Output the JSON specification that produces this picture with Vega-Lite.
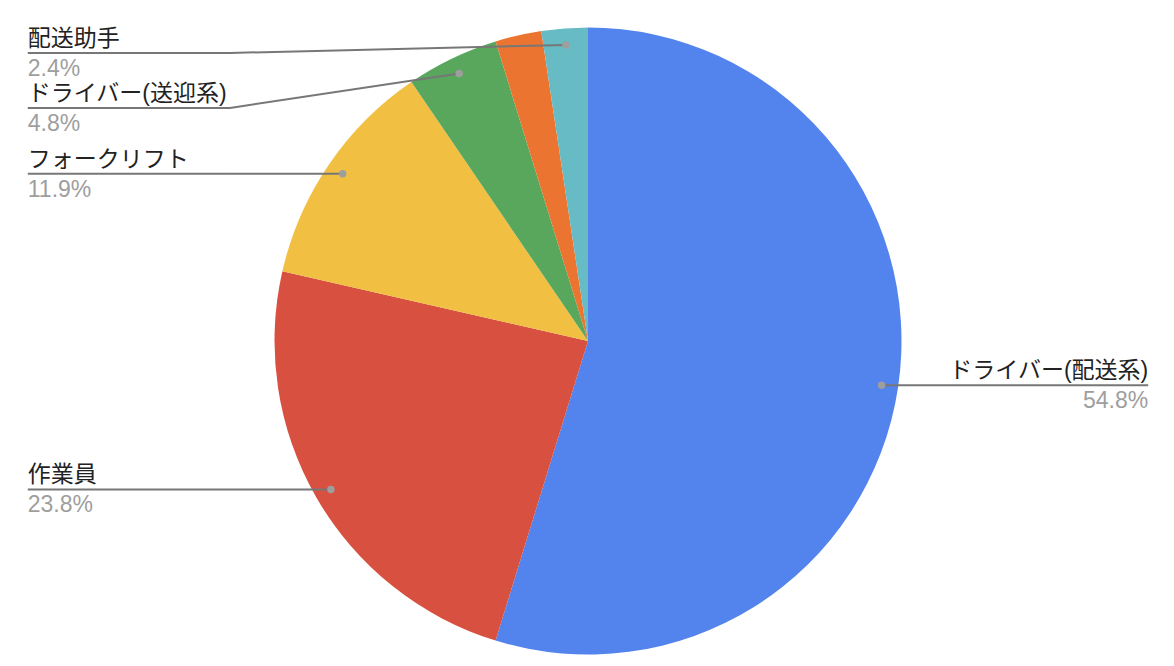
{
  "$schema": "https://vega.github.io/schema/vega-lite/v6.json",
  "width": 1174,
  "height": 666,
  "padding": 0,
  "autosize": {"type": "fit", "contains": "padding"},
  "background": "#ffffff",
  "config": {"view": {"stroke": null}},
  "data": {
    "values": [
      {"name": "ドライバー(配送系)", "count": 23, "order": 1},
      {"name": "作業員", "count": 10, "order": 2},
      {"name": "フォークリフト", "count": 5, "order": 3},
      {"name": "ドライバー(送迎系)", "count": 2, "order": 4},
      {"name": "その他", "count": 1, "order": 5},
      {"name": "配送助手", "count": 1, "order": 6}
    ]
  },
  "layer": [
    {
      "mark": {"type": "arc", "outerRadius": 313.5, "stroke": null},
      "encoding": {
        "theta": {"field": "count", "type": "quantitative", "stack": true},
        "order": {"field": "order", "type": "quantitative"},
        "color": {
          "field": "name",
          "type": "nominal",
          "legend": null,
          "scale": {
            "domain": ["ドライバー(配送系)", "作業員", "フォークリフト", "ドライバー(送迎系)", "その他", "配送助手"],
            "range": ["#5383EC", "#D85140", "#F1BF42", "#58A75C", "#EB7530", "#67BBC4"]
          }
        },
        "x": {"datum": 0, "type": "quantitative", "axis": null, "scale": {"domain": [-1.8756, 1.8692], "nice": false, "zero": false}},
        "y": {"datum": 0, "type": "quantitative", "axis": null, "scale": {"domain": [-1.0367, 1.0877], "nice": false, "zero": false}}
      }
    },
    {
      "transform": [
        {"joinaggregate": [{"op": "sum", "field": "count", "as": "total"}]},
        {"window": [{"op": "sum", "field": "count", "as": "cum"}], "sort": [{"field": "order"}], "frame": [null, 0]},
        {"calculate": "(datum.cum - datum.count/2)/datum.total*2*PI", "as": "mid"},
        {"calculate": "0.947*sin(datum.mid)", "as": "dotX"},
        {"calculate": "0.947*cos(datum.mid)", "as": "dotY"},
        {"calculate": "format(datum.count/datum.total, '.1%')", "as": "pct"},
        {"filter": "datum.name !== 'その他'"},
        {"calculate": "datum.dotX < 0 ? 'left' : 'right'", "as": "side"},
        {"window": [{"op": "row_number", "as": "rank"}], "groupby": ["side"], "sort": [{"field": "dotY", "order": "descending"}]},
        {"calculate": "datum.dotY + 0.1754*datum.rank", "as": "a"},
        {"window": [{"op": "min", "field": "a", "as": "amin"}], "groupby": ["side"], "sort": [{"field": "dotY", "order": "descending"}], "frame": [null, 0]},
        {"calculate": "min(0.9187 - 0.1754*(datum.rank-1), datum.amin - 0.1754*datum.rank)", "as": "labelY"},
        {"calculate": "datum.side === 'left' ? -1.787 : 1.787", "as": "labelX"},
        {"calculate": "datum.side === 'left' ? -1.142 : 1.142", "as": "elbowX"}
      ],
      "encoding": {
        "x": {"field": "labelX", "type": "quantitative", "axis": null, "scale": {"domain": [-1.8756, 1.8692], "nice": false, "zero": false}},
        "y": {"field": "labelY", "type": "quantitative", "axis": null, "scale": {"domain": [-1.0367, 1.0877], "nice": false, "zero": false}}
      },
      "layer": [
        {
          "mark": {"type": "rule", "color": "#777777", "strokeWidth": 2},
          "encoding": {
            "x2": {"field": "elbowX"}
          }
        },
        {
          "mark": {"type": "rule", "color": "#777777", "strokeWidth": 2},
          "encoding": {
            "x": {"field": "elbowX", "type": "quantitative"},
            "x2": {"field": "dotX"},
            "y2": {"field": "dotY"}
          }
        },
        {
          "mark": {"type": "point", "filled": true, "color": "#9E9E9E", "opacity": 1, "size": 55},
          "encoding": {
            "x": {"field": "dotX", "type": "quantitative"},
            "y": {"field": "dotY", "type": "quantitative"}
          }
        },
        {
          "mark": {
            "type": "text",
            "font": "Liberation Sans, Noto Sans CJK JP, sans-serif",
            "fontSize": 23,
            "color": "#222222",
            "baseline": "alphabetic",
            "dy": -7,
            "align": {"expr": "datum.side === 'left' ? 'left' : 'right'"}
          },
          "encoding": {
            "text": {"field": "name"}
          }
        },
        {
          "mark": {
            "type": "text",
            "font": "Liberation Sans, Noto Sans CJK JP, sans-serif",
            "fontSize": 23,
            "color": "#9E9E9E",
            "baseline": "alphabetic",
            "dy": 23,
            "align": {"expr": "datum.side === 'left' ? 'left' : 'right'"}
          },
          "encoding": {
            "text": {"field": "pct"}
          }
        }
      ]
    }
  ]
}
